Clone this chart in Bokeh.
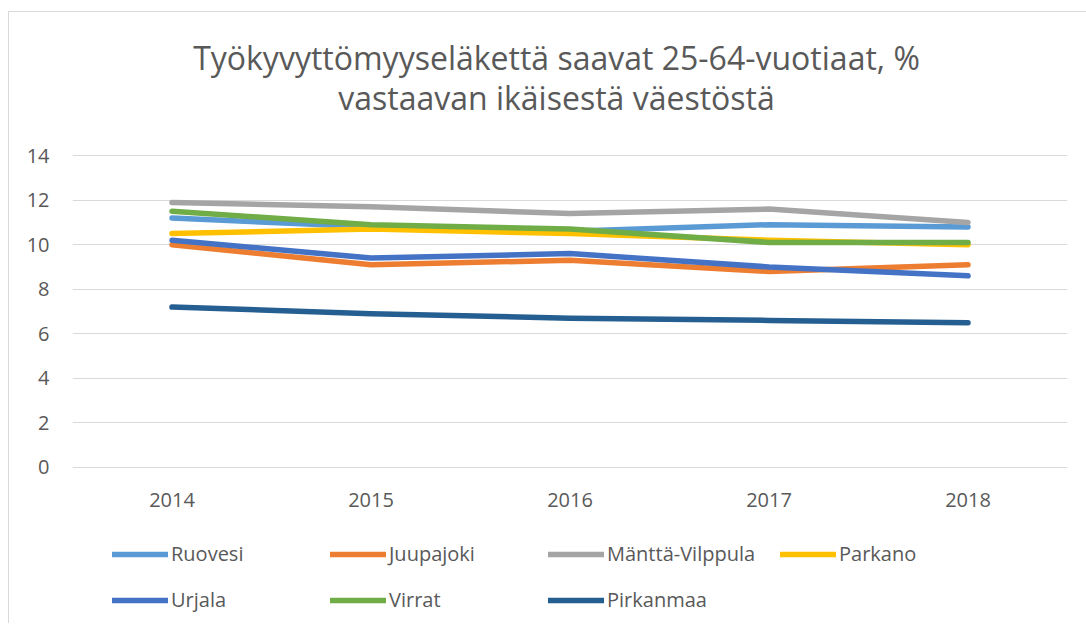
from bokeh.plotting import figure
from bokeh.layouts import column
from bokeh.models import Legend, LegendItem, FixedTicker, Range1d, FactorRange, Div
from bokeh.embed import file_html
from bokeh.resources import INLINE

years = ["2014", "2015", "2016", "2017", "2018"]
series_names = ["Ruovesi", "Juupajoki", "Mänttä-Vilppula", "Parkano", "Urjala", "Virrat", "Pirkanmaa"]
ruovesi = [11.2, 10.8, 10.6, 10.9, 10.8]
juupajoki = [10.0, 9.1, 9.3, 8.8, 9.1]
mantta_vilppula = [11.9, 11.7, 11.4, 11.6, 11.0]
parkano = [10.5, 10.7, 10.5, 10.2, 10.0]
urjala = [10.2, 9.4, 9.6, 9.0, 8.6]
virrat = [11.5, 10.9, 10.7, 10.1, 10.1]
pirkanmaa = [7.2, 6.9, 6.7, 6.6, 6.5]
y_ticks = [0, 2, 4, 6, 8, 10, 12, 14]
title_lines = ["Työkyvyttömyyseläkettä saavat 25-64-vuotiaat, %", "vastaavan ikäisestä väestöstä"]

values = [ruovesi, juupajoki, mantta_vilppula, parkano, urjala, virrat, pirkanmaa]
colors = ["#5B9BD5", "#ED7D31", "#A5A5A5", "#FFC000", "#4472C4", "#70AD47", "#255E91"]

FONT = "Open Sans"
TXT = "#595959"

title_html = ('<div style="box-sizing:border-box;width:1077px;padding:21px 0 0 8px;'
              'text-align:center;font-family:\'Open Sans\';font-size:32px;line-height:40px;'
              'color:%s">%s</div>') % (TXT, "<br>".join(title_lines))
title = Div(text=title_html, width=1077, height=120)

p = figure(width=1077, height=387, output_backend="svg", toolbar_location=None,
           x_range=FactorRange(*years), y_range=Range1d(-0.05, 14.05),
           min_border_left=63, min_border_right=19, min_border_top=12, min_border_bottom=61)
p.outline_line_color = None
p.xgrid.grid_line_color = None
p.ygrid.grid_line_color = "#d9d9d9"
p.ygrid.grid_line_width = 1
p.yaxis.ticker = FixedTicker(ticks=y_ticks)
for ax in (p.xaxis[0], p.yaxis[0]):
    ax.axis_line_color = None
    ax.major_tick_line_color = None
    ax.minor_tick_line_color = None
    ax.major_label_text_font = FONT
    ax.major_label_text_font_size = "20px"
    ax.major_label_text_color = TXT
p.yaxis.major_label_standoff = 17
p.xaxis.major_label_standoff = 18

for name, vals, c in zip(series_names, values, colors):
    p.line(years, vals, line_color=c, line_width=5.5, line_cap="round", line_join="round")

# legend strip below the chart
q = figure(width=1077, height=94, output_backend="svg", toolbar_location=None,
           x_range=Range1d(0, 1), y_range=Range1d(0, 1), min_border=0,
           x_axis_type=None, y_axis_type=None)
q.grid.visible = False
q.outline_line_color = None
positions = [(40, 56), (258, 56), (476, 56), (708, 56),
             (40, 10), (258, 10), (476, 10)]
for name, c, (lx, ly) in zip(series_names, colors, positions):
    # swatch-only renderer, kept outside the visible range
    r = q.line(x=[5, 6], y=[5, 6], line_color=c, line_width=5.5, line_cap="round")
    lg = Legend(items=[LegendItem(label=name, renderers=[r])], location=(lx, ly),
                glyph_width=56, glyph_height=20, label_standoff=3, padding=0, margin=0,
                spacing=0, border_line_alpha=0, background_fill_alpha=0,
                label_text_font=FONT, label_text_font_size="20px", label_text_color=TXT,
                label_height=20)
    q.add_layout(lg, "center")

layout = column(title, p, q, spacing=0)
layout.styles = {"border-left": "1px solid #d9d9d9", "border-top": "1px solid #d9d9d9",
                 "margin-left": "8px", "margin-top": "11px"}

open("out.html", "w").write(file_html(layout, INLINE))
